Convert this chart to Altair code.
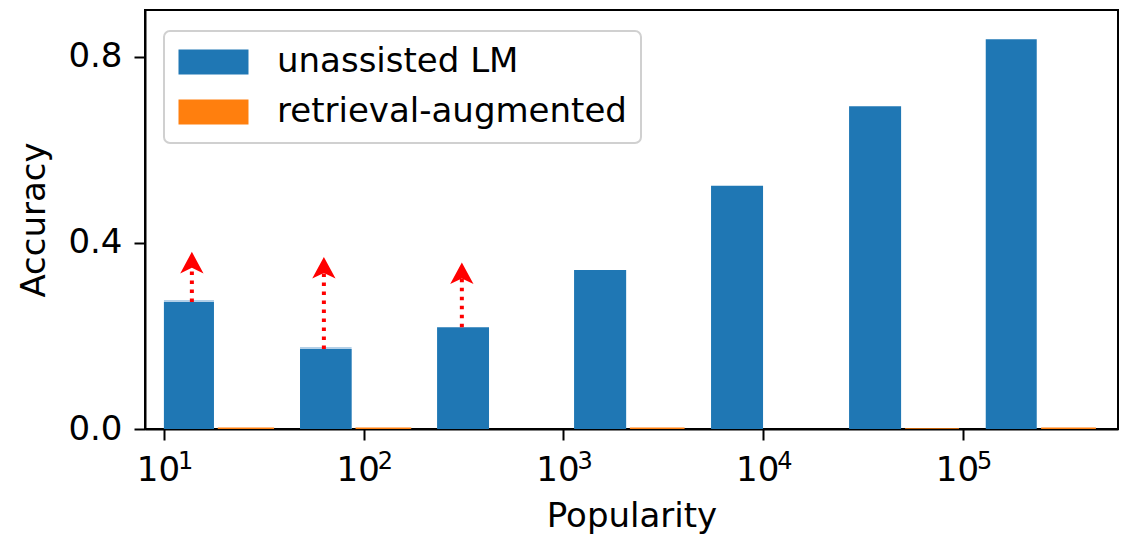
import altair as alt
import pandas as pd

# ---- data ----
series_names = ["unassisted LM", "retrieval-augmented"]
lm_lo = [10, 48, 233, 1130, 5480, 26900, 130000]
lm_hi = [17.8, 87, 424, 2060, 9980, 49000, 234000]
ra_lo = [18.6, 91, 444, 2150, 10450, 51300, 246000]
ra_hi = [35.6, 173, 836, 4040, 19700, 95500, 463000]
lm_acc = [0.273, 0.172, 0.219, 0.342, 0.523, 0.694, 0.838]
ra_acc = [0.003, 0.003, 0.0, 0.003, 0.0, 0.0015, 0.003]

ghost_lo = [10, 48]
ghost_hi = [17.8, 87]
ghost_acc = [0.2775, 0.1765]

arrow_x = [13.8, 63.2, 310]
arrow_base = [0.273, 0.172, 0.219]
arrow_tip = [0.381, 0.370, 0.358]

x_ticks = [10, 100, 1000, 10000, 100000]
x_exponents = ["1", "2", "3", "4", "5"]
y_ticks = [0.0, 0.4, 0.8]

FONT = "DejaVu Sans"
FS = 34
W, H = 973, 419

bars = pd.DataFrame({
    "series": [series_names[0]] * len(lm_lo) + [series_names[1]] * len(ra_lo),
    "lo": lm_lo + ra_lo,
    "hi": lm_hi + ra_hi,
    "acc": lm_acc + ra_acc,
})
ghost = pd.DataFrame({"lo": ghost_lo, "hi": ghost_hi, "acc": ghost_acc})
arrows = pd.DataFrame({"x": arrow_x, "base": arrow_base, "tip": arrow_tip})
exps = pd.DataFrame({"tick": x_ticks, "exp": x_exponents})

xscale = alt.Scale(type="log", domain=[8.04, 597000], nice=False)
yscale = alt.Scale(domain=[0, 0.901], nice=False)

xaxis = alt.Axis(
    values=x_ticks,
    labelExpr="'10'",
    labelOffset=-6,
    title="Popularity",
    grid=False,
    tickSize=11,
    labelPadding=13,
    titlePadding=12,
    labelFlush=False,
    labelOverlap=False,
)
yaxis = alt.Axis(
    values=y_ticks,
    format=".1f",
    title="Accuracy",
    grid=False,
    tickSize=11,
    labelPadding=12,
    titlePadding=16,
)

# legend swatch: 70 x 25 px rectangle starting at the symbol column's left edge
rect_sym = "M-1,-0.758L3.242,-0.758L3.242,0.758L-1,0.758Z"

main = alt.Chart(bars).mark_bar().encode(
    x=alt.X("lo:Q", scale=xscale, axis=xaxis),
    x2="hi:Q",
    y=alt.Y("acc:Q", scale=yscale, axis=yaxis),
    y2=alt.datum(0),
    color=alt.Color(
        "series:N",
        scale=alt.Scale(domain=series_names, range=["#1f77b4", "#ff7f0e"]),
        legend=alt.Legend(
            orient="none",
            legendX=19,
            legendY=21,
            title=None,
            symbolType=rect_sym,
            symbolSize=1089,
            symbolStrokeWidth=0,
            labelFontSize=FS,
            labelOffset=65,
            padding=14,
            rowPadding=16,
            strokeColor="#d0d0d0",
            fillColor="white",
            cornerRadius=6,
            labelLimit=1000,
        ),
    ),
)

ghost_layer = alt.Chart(ghost).mark_bar(color="#b3d0e8").encode(
    x=alt.X("lo:Q", scale=xscale),
    x2="hi:Q",
    y=alt.Y("acc:Q", scale=yscale),
    y2=alt.datum(0),
)

shaft = alt.Chart(arrows).transform_calculate(
    tip2="datum.tip - 0.032"
).mark_rule(color="red", strokeWidth=4, strokeDash=[3.5, 5.5]).encode(
    x=alt.X("x:Q", scale=xscale),
    y=alt.Y("base:Q", scale=yscale),
    y2="tip2:Q",
)

head = alt.Chart(arrows).mark_point(
    shape="M0,0L0.54,1L0,0.74L-0.54,1Z",
    filled=True,
    color="red",
    opacity=1,
    size=1866,
    strokeWidth=0,
).encode(
    x=alt.X("x:Q", scale=xscale),
    y=alt.Y("tip:Q", scale=yscale),
)

# exponent part of the 10^k tick labels
exp_text = alt.Chart(exps).mark_text(
    font=FONT, fontSize=24, align="left", baseline="top", dx=14, color="black"
).encode(
    x=alt.X("tick:Q", scale=xscale),
    y=alt.value(H + 21),
    text="exp:N",
)

chart = alt.layer(ghost_layer, main, shaft, head, exp_text).properties(
    width=W,
    height=H,
    autosize=alt.AutoSizeParams(type="none"),
    padding={"left": 137, "top": 2, "right": 3, "bottom": 106},
).configure(
    font=FONT,
).configure_view(
    stroke="black",
    strokeWidth=2,
).configure_axis(
    labelFont=FONT,
    titleFont=FONT,
    labelFontSize=FS,
    titleFontSize=FS,
    titleFontWeight="normal",
    labelColor="black",
    titleColor="black",
    domainColor="black",
    tickColor="black",
    domainWidth=2,
    tickWidth=2,
).configure_legend(
    labelFont=FONT,
    labelColor="black",
    strokeWidth=2,
)

chart.save("out.html", embed_options={"renderer": "svg", "actions": False})
